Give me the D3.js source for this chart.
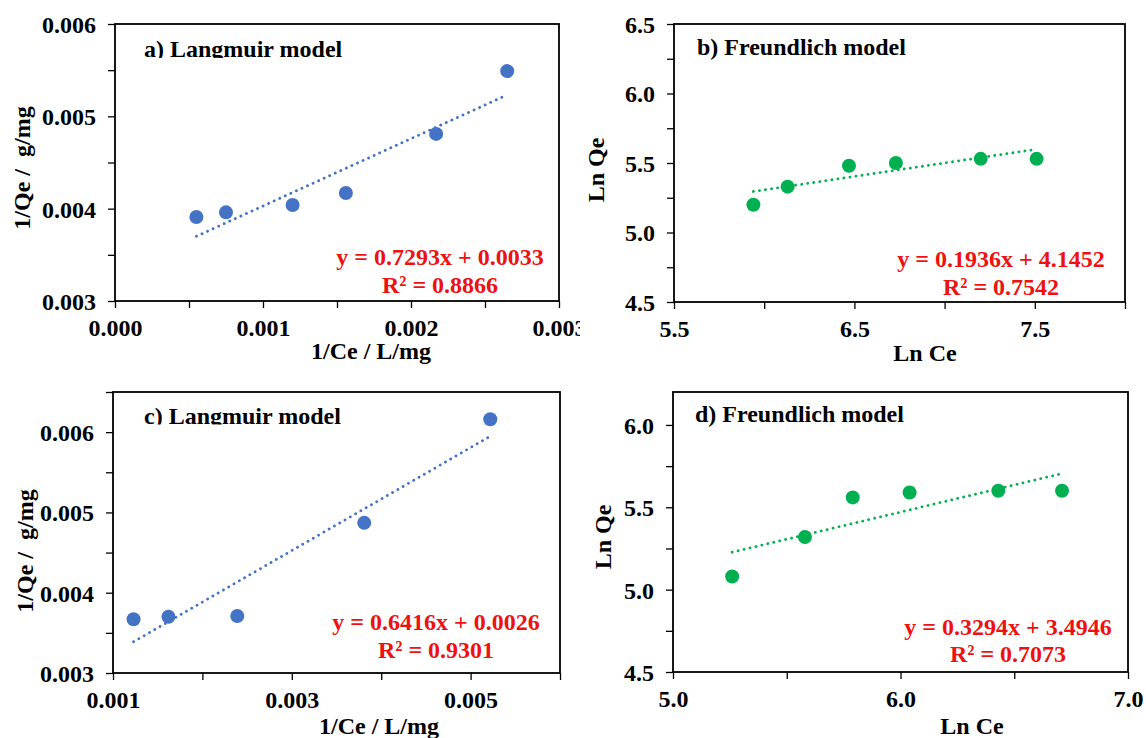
<!DOCTYPE html>
<html>
<head>
<meta charset="utf-8">
<script src="https://cdn.jsdelivr.net/npm/d3@7"></script>
<style>
  html, body { margin: 0; padding: 0; background: #fff; }
  svg { display: block; }
  text { font-family: "Liberation Serif", "Times New Roman", serif; font-weight: bold; }
</style>
</head>
<body>
<script>
// ---------------- DATA ----------------
// a) Langmuir model
const aX = [0.00055, 0.00075, 0.00120, 0.00156, 0.00217, 0.00265];
const aY = [0.00391, 0.00396, 0.00404, 0.00417, 0.00481, 0.00549];
const aFit = [0.7293, 0.0033];
const aEq = ["y = 0.7293x + 0.0033", "R\u00B2 = 0.8866"];
// b) Freundlich model
const bX = [5.94, 6.13, 6.47, 6.73, 7.20, 7.51];
const bY = [5.20, 5.33, 5.48, 5.50, 5.53, 5.53];
const bFit = [0.1936, 4.1452];
const bEq = ["y = 0.1936x + 4.1452", "R\u00B2 = 0.7542"];
// c) Langmuir model
const cX = [0.00123, 0.00162, 0.00239, 0.00381, 0.00522];
const cY = [0.00367, 0.00370, 0.00371, 0.00487, 0.00616];
const cFit = [0.6416, 0.0026];
const cEq = ["y = 0.6416x + 0.0026", "R\u00B2 = 0.9301"];
// d) Freundlich model
const dX = [5.26, 5.58, 5.79, 6.04, 6.43, 6.71];
const dY = [5.08, 5.32, 5.56, 5.59, 5.60, 5.60];
const dFit = [0.3294, 3.4946];
const dEq = ["y = 0.3294x + 3.4946", "R\u00B2 = 0.7073"];

// tick values and labels
const aXTicks = [0, 0.0005, 0.001, 0.0015, 0.002, 0.0025, 0.003];
const aXLabels = ["0.000", "", "0.001", "", "0.002", "", "0.003"];
const aYTicks = [0.003, 0.0035, 0.004, 0.0045, 0.005, 0.0055, 0.006];
const aYLabels = ["0.003", "", "0.004", "", "0.005", "", "0.006"];
const bXTicks = [5.5, 6.0, 6.5, 7.0, 7.5, 8.0];
const bXLabels = ["5.5", "", "6.5", "", "7.5", ""];
const bYTicks = [4.5, 4.75, 5.0, 5.25, 5.5, 5.75, 6.0, 6.25, 6.5];
const bYLabels = ["4.5", "", "5.0", "", "5.5", "", "6.0", "", "6.5"];
const cXTicks = [0.001, 0.002, 0.003, 0.004, 0.005, 0.006];
const cXLabels = ["0.001", "", "0.003", "", "0.005", ""];
const cYTicks = [0.003, 0.0035, 0.004, 0.0045, 0.005, 0.0055, 0.006, 0.0065];
const cYLabels = ["0.003", "", "0.004", "", "0.005", "", "0.006", ""];
const dXTicks = [5.0, 5.5, 6.0, 6.5, 7.0];
const dXLabels = ["5.0", "", "6.0", "", "7.0"];
const dYTicks = [4.5, 4.75, 5.0, 5.25, 5.5, 5.75, 6.0];
const dYLabels = ["4.5", "", "5.0", "", "5.5", "", "6.0"];

const titles = ["a) Langmuir model", "b) Freundlich model", "c) Langmuir model", "d) Freundlich model"];
const xTitles = ["1/Ce / L/mg", "Ln Ce", "1/Ce / L/mg", "Ln Ce"];
const yTitles = ["1/Qe /  g/mg", "Ln Qe", "1/Qe /  g/mg", "Ln Qe"];

const BLUE = "#4472C4", GREEN = "#00B050", RED = "#EE1111";

// ---------------- LAYOUT ----------------
const W = 1146, H = 738;
const svg = d3.select("body").append("svg").attr("width", W).attr("height", H);

const panels = [
  { xs: aX, ys: aY, fit: aFit, eq: aEq, color: BLUE,
    xDomain: [0, 0.003], yDomain: [0.003, 0.006],
    xTicks: aXTicks, xLabels: aXLabels, yTicks: aYTicks, yLabels: aYLabels,
    left: 115, right: 559, top: 24, bottom: 301,
    clip: [0, 0, 580, 369], titleX: 144, titleY: 57, titleClip: true,
    eqX: 440, eqY: [265, 293], xtX: 371, xtY: 359, ytX: 30, ytY: 168 },
  { xs: bX, ys: bY, fit: bFit, eq: bEq, color: GREEN,
    xDomain: [5.5, 8.0], yDomain: [4.5, 6.5],
    xTicks: bXTicks, xLabels: bXLabels, yTicks: bYTicks, yLabels: bYLabels,
    left: 674, right: 1125, top: 24, bottom: 302,
    clip: [580, 0, 566, 369], titleX: 697, titleY: 55, titleClip: false,
    eqX: 1001, eqY: [267, 295], xtX: 925, xtY: 361, ytX: 604, ytY: 170 },
  { xs: cX, ys: cY, fit: cFit, eq: cEq, color: BLUE,
    xDomain: [0.001, 0.006], yDomain: [0.003, 0.0065],
    xTicks: cXTicks, xLabels: cXLabels, yTicks: cYTicks, yLabels: cYLabels,
    left: 113, right: 560, top: 392, bottom: 673,
    clip: [0, 369, 580, 369], titleX: 144, titleY: 423.5, titleClip: true,
    eqX: 436, eqY: [630, 658], xtX: 379, xtY: 734, ytX: 33, ytY: 551 },
  { xs: dX, ys: dY, fit: dFit, eq: dEq, color: GREEN,
    xDomain: [5.0, 7.0], yDomain: [4.5, 6.2],
    xTicks: dXTicks, xLabels: dXLabels, yTicks: dYTicks, yLabels: dYLabels,
    left: 673, right: 1128, top: 392, bottom: 672,
    clip: [580, 369, 566, 369], titleX: 695, titleY: 422, titleClip: false,
    eqX: 1008, eqY: [635, 662], xtX: 972, xtY: 734, ytX: 611, ytY: 537 }
];

const FS = 24;

panels.forEach((p, i) => {
  const clipId = "clip" + i;
  svg.append("clipPath").attr("id", clipId).append("rect")
    .attr("x", p.clip[0]).attr("y", p.clip[1]).attr("width", p.clip[2]).attr("height", p.clip[3]);
  const g = svg.append("g").attr("clip-path", `url(#${clipId})`);

  const x = d3.scaleLinear().domain(p.xDomain).range([p.left, p.right]);
  const y = d3.scaleLinear().domain(p.yDomain).range([p.bottom, p.top]);

  // x axis
  const xa = g.append("g").attr("transform", `translate(0,${p.bottom})`)
    .call(d3.axisBottom(x).tickValues(p.xTicks).tickSize(7).tickSizeOuter(0)
      .tickFormat((d, k) => p.xLabels[k]));
  xa.select(".domain").remove();
  xa.selectAll(".tick line").attr("stroke", "#000").attr("stroke-width", 1.3);
  xa.selectAll(".tick text").attr("y", 35).attr("dy", 0)
    .attr("fill", "#000").style("font-size", FS + "px")
    .style("font-family", '"Liberation Serif", "Times New Roman", serif').style("font-weight", "bold");

  // y axis
  const ya = g.append("g").attr("transform", `translate(${p.left},0)`)
    .call(d3.axisLeft(y).tickValues(p.yTicks).tickSize(7).tickSizeOuter(0).tickPadding(12)
      .tickFormat((d, k) => p.yLabels[k]));
  ya.select(".domain").remove();
  ya.selectAll(".tick line").attr("stroke", "#000").attr("stroke-width", 1.3);
  ya.selectAll(".tick text").attr("dy", "0.35em")
    .attr("fill", "#000").style("font-size", FS + "px")
    .style("font-family", '"Liberation Serif", "Times New Roman", serif').style("font-weight", "bold");

  // frame
  g.append("rect").attr("x", p.left).attr("y", p.top)
    .attr("width", p.right - p.left).attr("height", p.bottom - p.top)
    .attr("fill", "none").attr("stroke", "#000").attr("stroke-width", 1.8);

  // trendline
  const xmin = d3.min(p.xs), xmax = d3.max(p.xs);
  const f = v => p.fit[0] * v + p.fit[1];
  g.append("line")
    .attr("x1", x(xmin)).attr("y1", y(f(xmin)))
    .attr("x2", x(xmax)).attr("y2", y(f(xmax)))
    .attr("stroke", p.color).attr("stroke-width", 2.8)
    .attr("stroke-dasharray", "0.1 6").attr("stroke-linecap", "round");

  // points
  g.selectAll("circle.pt").data(p.xs.map((v, k) => [v, p.ys[k]])).enter()
    .append("circle").attr("class", "pt")
    .attr("cx", d => x(d[0])).attr("cy", d => y(d[1])).attr("r", 7)
    .attr("fill", p.color);

  // panel title
  let tg = g;
  if (p.titleClip) {
    const tcid = "tclip" + i;
    svg.append("clipPath").attr("id", tcid).append("rect")
      .attr("x", p.titleX - 5).attr("y", p.titleY - 30).attr("width", 300).attr("height", 31);
    tg = g.append("g").attr("clip-path", `url(#${tcid})`);
  }
  tg.append("text").attr("x", p.titleX).attr("y", p.titleY)
    .attr("fill", "#000").style("font-size", FS + "px").text(titles[i]);

  // equation
  p.eq.forEach((s, k) => {
    g.append("text").attr("x", p.eqX).attr("y", p.eqY[k]).attr("text-anchor", "middle")
      .attr("fill", RED).style("font-size", FS + "px").text(s);
  });

  // axis titles
  g.append("text").attr("x", p.xtX).attr("y", p.xtY).attr("text-anchor", "middle")
    .attr("fill", "#000").style("font-size", FS + "px").text(xTitles[i]);
  g.append("text").attr("transform", `translate(${p.ytX},${p.ytY}) rotate(-90)`)
    .attr("text-anchor", "middle").attr("fill", "#000")
    .style("font-size", FS + "px").style("white-space", "pre").attr("xml:space", "preserve")
    .text(yTitles[i]);
});
</script>
</body>
</html>
